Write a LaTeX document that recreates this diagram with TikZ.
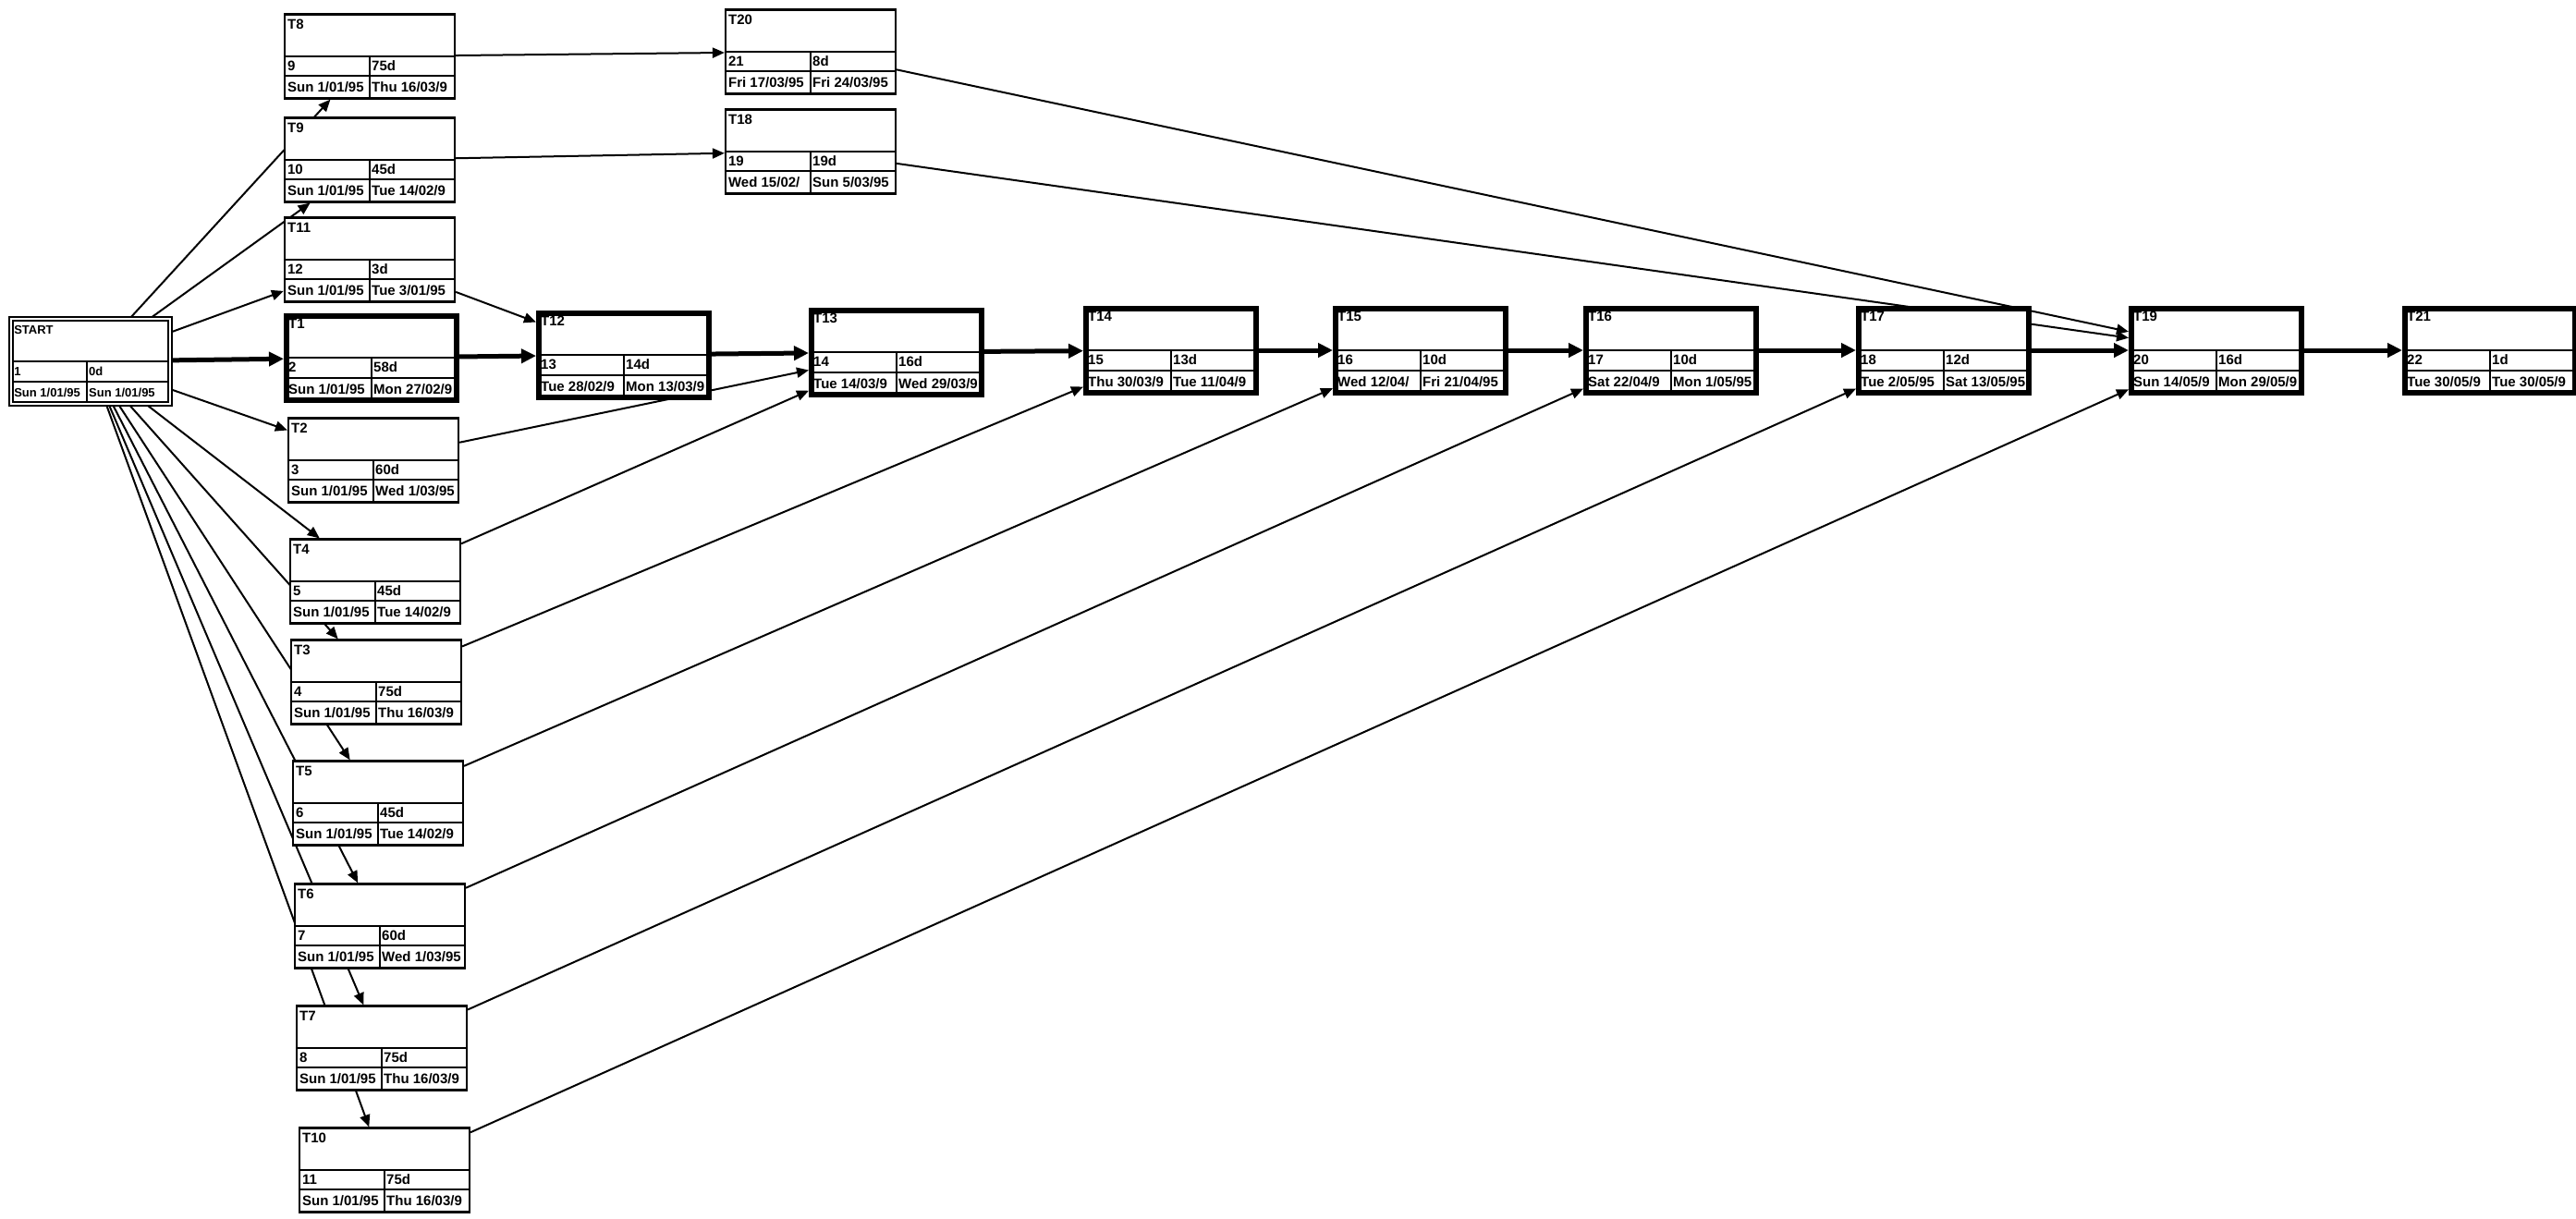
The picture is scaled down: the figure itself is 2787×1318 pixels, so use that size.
\documentclass[tikz,border=0pt]{standalone}
\usepackage{fontspec}
\setmainfont{Liberation Sans}
\usetikzlibrary{arrows.meta,calc}
\pgfdeclarelayer{bottom}
\pgfdeclarelayer{edges}
\pgfsetlayers{bottom,edges,main}
\expandafter\def\csname insetXbox\endcsname{4}
\expandafter\def\csname insetXcrit\endcsname{5}
\expandafter\def\csname insetXstartbox\endcsname{4}
\expandafter\def\csname shortXbox\endcsname{0pt}
\expandafter\def\csname shortXcrit\endcsname{0pt}
\expandafter\def\csname shortXstartbox\endcsname{2.2pt}
\expandafter\def\csname colXbox\endcsname{0}
\expandafter\def\csname colXcrit\endcsname{0}
\expandafter\def\csname colXstartbox\endcsname{-4}
\expandafter\def\csname fontXbox\endcsname{\fontsize{15}{15}\bfseries}
\expandafter\def\csname fontXcrit\endcsname{\fontsize{15}{15}\bfseries}
\expandafter\def\csname fontXstartbox\endcsname{\fontsize{13}{13}\bfseries}
\newcommand\taskbox[9]{%
  \node[#4] (#1) at (#2,#3) {};
  \draw[div, shorten <=\csname shortX#4\endcsname, shorten >=\csname shortX#4\endcsname] (#1.west) -- (#1.east);
  \draw[div, shorten <=\csname shortX#4\endcsname, shorten >=\csname shortX#4\endcsname] ($(#1.north west)!0.73!(#1.south west)$) -- ($(#1.north east)!0.73!(#1.south east)$);
  \draw[div, shorten >=\csname shortX#4\endcsname] ([xshift=\csname colX#4\endcsname pt]#1.center) -- ([xshift=\csname colX#4\endcsname pt]#1.south);
  \node[lbl, font=\csname fontX#4\endcsname] (#1-a) at ($(#1.north west)+(\csname insetX#4\endcsname,17)$) {#5};
  \node[lbl, font=\csname fontX#4\endcsname] (#1-b) at ($($(#1.north west)!0.615!(#1.south west)$)+(\csname insetX#4\endcsname,4.8)$) {#6};
  \node[lbl, font=\csname fontX#4\endcsname] (#1-c) at ($($(#1.north)!0.615!(#1.south)$)+(\csname colX#4\endcsname,0)+(2,4.8)$) {#7};
  \node[lbl, font=\csname fontX#4\endcsname] (#1-d) at ($($(#1.north west)!0.865!(#1.south west)$)+(\csname insetX#4\endcsname,4.5)$) {#8};
  \node[lbl, font=\csname fontX#4\endcsname] (#1-e) at ($($(#1.north)!0.865!(#1.south)$)+(\csname colX#4\endcsname,0)+(2,4.5)$) {#9};
}
\begin{document}
\begin{tikzpicture}[x=1pt,y=-1pt,
  box/.style={draw, fill=white, line width=2.2pt, minimum width=184pt, minimum height=91pt, inner sep=0pt},
  crit/.style={box, line width=6pt, minimum width=184pt, minimum height=91pt},
  startbox/.style={box, double, line width=1.8pt, double distance=2.6pt, minimum width=172pt, minimum height=92pt},
  div/.style={line width=2pt},
  lbl/.style={inner sep=0pt, anchor=base west},
  con/.style={line width=2pt, -{Triangle[length=13pt,width=11pt]}},
  ccon/.style={line width=5pt, -{Triangle[length=16pt,width=15pt]}}]
\begin{pgfonlayer}{bottom}
\fill[white] (0,0) rectangle (2787,1318);
\end{pgfonlayer}
\useasboundingbox (0,0) rectangle (2787,1318);

\taskbox{START}{98}{391}{startbox}{START}{1}{0d}{Sun 1/01/95}{Sun 1/01/95}
\taskbox{T8}{400}{61}{box}{T8}{9}{75d}{Sun 1/01/95}{Thu 16/03/9}
\taskbox{T9}{400}{173}{box}{T9}{10}{45d}{Sun 1/01/95}{Tue 14/02/9}
\taskbox{T11}{400}{281}{box}{T11}{12}{3d}{Sun 1/01/95}{Tue 3/01/95}
\taskbox{T1}{402}{387}{crit}{T1}{2}{58d}{Sun 1/01/95}{Mon 27/02/9}
\taskbox{T2}{404}{498}{box}{T2}{3}{60d}{Sun 1/01/95}{Wed 1/03/95}
\taskbox{T4}{406}{629}{box}{T4}{5}{45d}{Sun 1/01/95}{Tue 14/02/9}
\taskbox{T3}{407}{738}{box}{T3}{4}{75d}{Sun 1/01/95}{Thu 16/03/9}
\taskbox{T5}{409}{869}{box}{T5}{6}{45d}{Sun 1/01/95}{Tue 14/02/9}
\taskbox{T6}{411}{1002}{box}{T6}{7}{60d}{Sun 1/01/95}{Wed 1/03/95}
\taskbox{T7}{413}{1134}{box}{T7}{8}{75d}{Sun 1/01/95}{Thu 16/03/9}
\taskbox{T10}{416}{1266}{box}{T10}{11}{75d}{Sun 1/01/95}{Thu 16/03/9}
\taskbox{T20}{877}{56}{box}{T20}{21}{8d}{Fri 17/03/95}{Fri 24/03/95}
\taskbox{T18}{877}{164}{box}{T18}{19}{19d}{Wed 15/02/}{Sun 5/03/95}
\taskbox{T12}{675}{384}{crit}{T12}{13}{14d}{Tue 28/02/9}{Mon 13/03/9}
\taskbox{T13}{970}{381}{crit}{T13}{14}{16d}{Tue 14/03/9}{Wed 29/03/9}
\taskbox{T14}{1267}{379}{crit}{T14}{15}{13d}{Thu 30/03/9}{Tue 11/04/9}
\taskbox{T15}{1537}{379}{crit}{T15}{16}{10d}{Wed 12/04/}{Fri 21/04/95}
\taskbox{T16}{1808}{379}{crit}{T16}{17}{10d}{Sat 22/04/9}{Mon 1/05/95}
\taskbox{T17}{2103}{379}{crit}{T17}{18}{12d}{Tue 2/05/95}{Sat 13/05/95}
\taskbox{T19}{2398}{379}{crit}{T19}{20}{16d}{Sun 14/05/9}{Mon 29/05/9}
\taskbox{T21}{2694}{379}{crit}{T21}{22}{1d}{Tue 30/05/9}{Tue 30/05/9}

\begin{pgfonlayer}{edges}
  \draw[con] (START) -- (T8);
  \draw[con] (START) -- (T9);
  \draw[con] (START) -- (T11);
  \draw[con] (START) -- (T2);
  \draw[con] (START) -- (T4);
  \draw[con] (START) -- (T3);
  \draw[con] (START) -- (T5);
  \draw[con] (START) -- (T6);
  \draw[con] (START) -- (T7);
  \draw[con] (START) -- (T10);
  \draw[con] (T8) -- (T20);
  \draw[con] (T9) -- (T18);
  \draw[con] (T11) -- (T12);
  \draw[con] (T2) -- (T13);
  \draw[con] (T4) -- (T13);
  \draw[con] (T3) -- (T14);
  \draw[con] (T5) -- (T15);
  \draw[con] (T6) -- (T16);
  \draw[con] (T7) -- (T17);
  \draw[con] (T10) -- (T19);
  \draw[con] (T20) -- (T19);
  \draw[con] (T18) -- (T19);
  \draw[ccon] (START) -- (T1);
  \draw[ccon] (T1) -- (T12);
  \draw[ccon] (T12) -- (T13);
  \draw[ccon] (T13) -- (T14);
  \draw[ccon] (T14) -- (T15);
  \draw[ccon] (T15) -- (T16);
  \draw[ccon] (T16) -- (T17);
  \draw[ccon] (T17) -- (T19);
  \draw[ccon] (T19) -- (T21);
\end{pgfonlayer}
\end{tikzpicture}
\end{document}
